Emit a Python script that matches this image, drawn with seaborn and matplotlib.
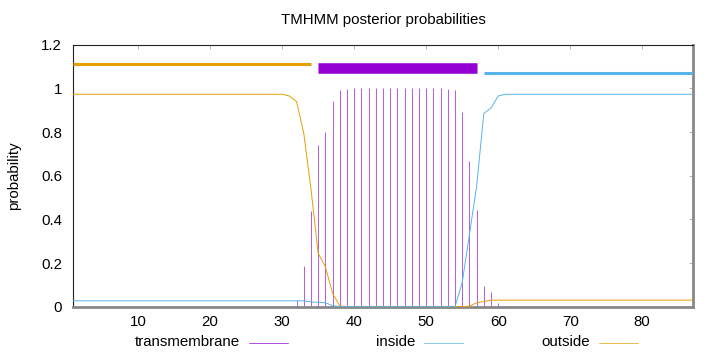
"""TMHMM posterior probabilities (gnuplot-style recreation)."""
import matplotlib
matplotlib.use("Agg")
import matplotlib.pyplot as plt
from matplotlib.lines import Line2D
import pandas as pd
import seaborn as sns

# residue positions 1..87
residuos = list(range(1, 88))

prob_outside = [
    0.973, 0.973, 0.973, 0.973, 0.973, 0.973, 0.973, 0.973, 0.973, 0.973,
    0.973, 0.973, 0.973, 0.973, 0.973, 0.973, 0.973, 0.973, 0.973, 0.973,
    0.973, 0.973, 0.973, 0.973, 0.973, 0.973, 0.973, 0.973, 0.973, 0.973,
    0.965, 0.940, 0.795, 0.540, 0.245, 0.183, 0.062, 0.004, 0.0, 0.0,
    0.0, 0.0, 0.0, 0.0, 0.0, 0.0, 0.0, 0.0, 0.0, 0.0,
    0.0, 0.0, 0.0, 0.0, 0.0, 0.002, 0.018, 0.024, 0.030, 0.030,
    0.030, 0.030, 0.030, 0.030, 0.030, 0.030, 0.030, 0.030, 0.030, 0.030,
    0.030, 0.030, 0.030, 0.030, 0.030, 0.030, 0.030, 0.030, 0.030, 0.030,
    0.030, 0.030, 0.030, 0.030, 0.030, 0.030, 0.030,
]

prob_inside = [
    0.027, 0.027, 0.027, 0.027, 0.027, 0.027, 0.027, 0.027, 0.027, 0.027,
    0.027, 0.027, 0.027, 0.027, 0.027, 0.027, 0.027, 0.027, 0.027, 0.027,
    0.027, 0.027, 0.027, 0.027, 0.027, 0.027, 0.027, 0.027, 0.027, 0.027,
    0.027, 0.027, 0.027, 0.022, 0.020, 0.018, 0.005, 0.0, 0.0, 0.0,
    0.0, 0.0, 0.0, 0.0, 0.0, 0.0, 0.0, 0.0, 0.0, 0.0,
    0.0, 0.0, 0.0, 0.0, 0.110, 0.330, 0.550, 0.885, 0.910, 0.965,
    0.973, 0.973, 0.973, 0.973, 0.973, 0.973, 0.973, 0.973, 0.973, 0.973,
    0.973, 0.973, 0.973, 0.973, 0.973, 0.973, 0.973, 0.973, 0.973, 0.973,
    0.973, 0.973, 0.973, 0.973, 0.973, 0.973, 0.973,
]

prob_tm = [
    0.0, 0.0, 0.0, 0.0, 0.0, 0.0, 0.0, 0.0, 0.0, 0.0,
    0.0, 0.0, 0.0, 0.0, 0.0, 0.0, 0.0, 0.0, 0.0, 0.0,
    0.0, 0.0, 0.0, 0.0, 0.0, 0.0, 0.0, 0.0, 0.0, 0.0,
    0.0, 0.030, 0.186, 0.438, 0.739, 0.800, 0.944, 0.993, 0.999, 1.0,
    1.0, 1.0, 1.0, 1.0, 1.0, 1.0, 1.0, 1.0, 1.0, 1.0,
    1.0, 1.0, 0.999, 0.993, 0.890, 0.669, 0.443, 0.095, 0.067, 0.015,
    0.0, 0.0, 0.0, 0.0, 0.0, 0.0, 0.0, 0.0, 0.0, 0.0,
    0.0, 0.0, 0.0, 0.0, 0.0, 0.0, 0.0, 0.0, 0.0, 0.0,
    0.0, 0.0, 0.0, 0.0, 0.0, 0.0, 0.0,
]

# predicted topology (top bars): label, start, end, height
seg_etiquetas = ["outside", "TMhelix", "inside"]
seg_inicio = [1, 35, 58]
seg_fin = [34, 57, 87]
seg_altura = [1.112, 1.093, 1.072]

y_ticks = [0, 0.2, 0.4, 0.6, 0.8, 1.0, 1.2]
y_tick_labels = ["0", "0.2", "0.4", "0.6", "0.8", "1", "1.2"]
x_ticks = [10, 20, 30, 40, 50, 60, 70, 80]

COLOR = {
    "transmembrane": "#9400D3",
    "inside": "#56B4E9",
    "outside": "#E69F00",
}
COLOR_SEG = {"outside": "#E69F00", "TMhelix": "#9400D3", "inside": "#56B4E9"}
GROSOR_SEG = {"outside": 2.2, "TMhelix": 7.6, "inside": 2.2}
TAM = 10.8


def main():
    sns.set_style("white")
    plt.rcParams["font.family"] = ["Liberation Sans", "DejaVu Sans"]
    plt.rcParams["text.color"] = "black"
    plt.rcParams["xtick.labelcolor"] = "black"
    plt.rcParams["ytick.labelcolor"] = "black"

    datos = pd.DataFrame({
        "residuo": residuos * 2,
        "prob": prob_outside + prob_inside,
        "tipo": ["outside"] * len(residuos) + ["inside"] * len(residuos),
    })

    fig = plt.figure(figsize=(7.2, 3.52), dpi=100)
    ax = fig.add_axes([0.1018, 0.1287, 0.8602, 0.7443])

    ax.vlines(residuos, 0, prob_tm, color=COLOR["transmembrane"],
              linewidth=0.7, alpha=0.65, zorder=2)
    sns.lineplot(data=datos, x="residuo", y="prob", hue="tipo",
                 palette=COLOR, linewidth=0.7, legend=False, ax=ax,
                 zorder=3)

    for etq, ini, fin, alt in zip(seg_etiquetas, seg_inicio, seg_fin,
                                  seg_altura):
        ax.hlines(alt, ini, fin, color=COLOR_SEG[etq],
                  linewidth=GROSOR_SEG[etq], capstyle="butt", zorder=4)

    ax.set_xlim(1, 87)
    ax.set_ylim(0, 1.2)
    ax.set_xticks(x_ticks)
    ax.set_xticklabels([str(t) for t in x_ticks], fontsize=TAM)
    ax.set_yticks(y_ticks)
    ax.set_yticklabels(y_tick_labels, fontsize=TAM)
    ax.set_xlabel("")
    ax.set_ylabel("")
    ax.tick_params(axis="both", direction="in", length=3, width=0.5,
                   color="#999999", top=True, right=True)
    ax.tick_params(axis="x", pad=6)
    ax.tick_params(axis="y", pad=8)

    for lado in ["left", "top"]:
        ax.spines[lado].set_color("#222222")
        ax.spines[lado].set_linewidth(0.8)
    for lado in ["bottom", "right"]:
        ax.spines[lado].set_color("#888888")
        ax.spines[lado].set_linewidth(2.0)

    fig.text(0.532, 0.943, "TMHMM posterior probabilities", ha="center",
             va="center", fontsize=TAM)
    fig.text(0.019, 0.50, "probability", rotation=90, ha="center",
             va="center", fontsize=TAM)

    # gnuplot-style key: right-aligned text followed by the line sample
    y_key = 1 - 342 / 352
    for nombre, x_txt in [("transmembrane", 240), ("inside", 415),
                          ("outside", 590)]:
        fig.text(x_txt / 720, y_key, nombre, ha="right", va="center",
                 fontsize=TAM)
        fig.add_artist(Line2D([(x_txt + 9) / 720, (x_txt + 48) / 720],
                              [y_key - 1 / 352, y_key - 1 / 352],
                              color=COLOR[nombre], linewidth=0.7,
                              alpha=0.7))

    fig.savefig("out.png", dpi=100)
    plt.close(fig)


if __name__ == "__main__":
    main()
